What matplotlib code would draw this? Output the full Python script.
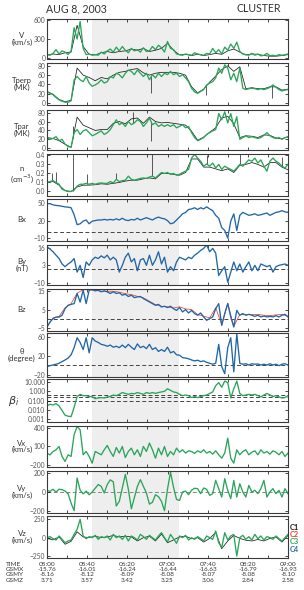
import numpy as np
import matplotlib
matplotlib.use("Agg")
import matplotlib.pyplot as plt

plt.rcParams["font.family"] = ["Lato", "DejaVu Sans"]

# sampling grid: minutes after 05:00 UT, every 3 min (C3 / C4 series)
t3 = np.arange(0, 241, 3)
# coarser grid for the secondary spacecraft traces (C1 / C2)
t6 = np.arange(0, 241, 6)

# ---- plasma (C3 green, C1 black) ----
v_c3 = [50, 40, 70, 130, 60, 110, 90, 50, 110, 480,
        300, 580, 150, 50, 60, 40, 50, 40, 90, 60,
        110, 140, 90, 170, 110, 180, 120, 80, 150, 110,
        130, 90, 160, 100, 110, 180, 130, 200, 160, 90,
        260, 150, 130, 60, 50, 40, 60, 50, 40, 80,
        60, 50, 40, 70, 60, 150, 80, 130, 60, 170,
        120, 220, 150, 250, 100, 60, 50, 40, 70, 40,
        60, 30, 40, 70, 30, 40, 30, 50, 40, 50,
        60]
v_c1 = [45, 60, 50, 80, 90, 520, 180, 55, 45, 80,
        100, 80, 100, 110, 140, 120, 150, 100, 120, 150,
        230, 120, 45, 55, 35, 55, 35, 50, 70, 55,
        110, 140, 90, 45, 60, 55, 35, 25, 25, 35,
        50]

tperp_c3 = [24, 21, 18, 12, 7, 4, 2, 2, 5, 50,
            57, 50, 46, 57, 43, 36, 39, 43, 50, 43,
            46, 57, 54, 64, 61, 54, 64, 71, 68, 61,
            71, 64, 57, 64, 50, 61, 54, 64, 57, 64,
            61, 68, 61, 64, 57, 61, 54, 46, 32, 24,
            21, 25, 29, 39, 43, 46, 54, 75, 64, 82,
            75, 50, 64, 46, 75, 32, 29, 31, 32, 31,
            29, 31, 29, 31, 34, 39, 34, 29, 26, 28,
            29]
tperp_c1 = [25, 19, 8, 3, 6, 75, 60, 55, 48, 55,
            52, 60, 66, 68, 72, 74, 65, 60, 64, 66,
            66, 66, 64, 60, 35, 22, 30, 45, 58, 72,
            80, 68, 78, 31, 33, 31, 31, 35, 35, 28,
            30]
tperp_spike_t = [104, 158, 224]
tperp_spike_v = [21, 18, 12]

tpar_c3 = [24, 20, 22, 26, 17, 20, 9, 4, 2, 35,
           42, 31, 39, 42, 35, 28, 31, 35, 39, 31,
           35, 42, 53, 64, 53, 57, 49, 60, 53, 57,
           64, 60, 49, 57, 68, 53, 57, 49, 53, 49,
           53, 49, 53, 46, 49, 53, 46, 49, 35, 24,
           17, 20, 24, 31, 35, 39, 42, 78, 64, 82,
           57, 78, 49, 71, 20, 24, 28, 24, 26, 24,
           22, 24, 29, 35, 28, 24, 22, 24, 20, 24,
           25]
tpar_c1 = [24, 22, 17, 9, 2, 70, 52, 46, 40, 42,
           42, 56, 60, 55, 66, 68, 56, 70, 60, 57,
           58, 56, 54, 52, 38, 18, 25, 36, 46, 68,
           72, 55, 24, 28, 27, 24, 30, 29, 23, 21,
           26]
tpar_spike_t = [26, 86, 104]
tpar_spike_v = [50, 82, 17]

n_c3 = [0.10, 0.11, 0.12, 0.10, 0.08, 0.025, 0.01, 0.0, 0.0, 0.015,
        0.06, 0.08, 0.08, 0.09, 0.08, 0.09, 0.08, 0.09, 0.095, 0.09,
        0.09, 0.11, 0.095, 0.135, 0.11, 0.12, 0.125, 0.17, 0.135, 0.125,
        0.135, 0.145, 0.15, 0.145, 0.16, 0.17, 0.15, 0.18, 0.21, 0.20,
        0.21, 0.19, 0.20, 0.18, 0.19, 0.21, 0.225, 0.245, 0.37, 0.41,
        0.37, 0.335, 0.28, 0.305, 0.28, 0.315, 0.26, 0.30, 0.245, 0.28,
        0.26, 0.245, 0.225, 0.26, 0.30, 0.28, 0.315, 0.35, 0.335, 0.37,
        0.315, 0.35, 0.28, 0.225, 0.335, 0.37, 0.335, 0.315, 0.28, 0.26,
        0.30]
n_c1 = [0.10, 0.11, 0.07, 0.01, 0.0, 0.05, 0.07, 0.07, 0.075, 0.085,
        0.08, 0.09, 0.10, 0.115, 0.125, 0.125, 0.14, 0.15, 0.14, 0.20,
        0.20, 0.19, 0.18, 0.21, 0.36, 0.36, 0.27, 0.27, 0.25, 0.23,
        0.25, 0.21, 0.29, 0.30, 0.32, 0.30, 0.27, 0.32, 0.32, 0.27,
        0.24]
n_spike_t = [5, 9, 26, 40, 69, 105, 159, 192, 234]
n_spike_v = [0.20, 0.22, 0.41, 0.19, 0.21, 0.41, 0.40, 0.41, 0.38]

# ---- magnetic field (C4 blue, C2 red) ----
bx_c4 = [49, 49, 47, 46, 45.5, 44.5, 43.5, 43, 42, 30,
         13, 14.5, 19, 21, 14.5, 19, 20, 21, 21, 22,
         21, 22, 21, 23, 21, 24, 21, 20, 22, 21,
         24, 21, 23, 25, 23, 21, 24, 26, 24, 23,
         20, 14.5, 16, 21, 26, 31.6, 34, 39, 40, 42,
         39, 42, 40, 43.5, 40, 37, 29, 24, 8, 3,
         -10, 19, 31.6, 3, 29, 34, 31.6, 29, 30, 31.6,
         29, 30, 31.6, 33, 29, 31.6, 34, 35, 37, 35,
         34]
by_c4 = [16.7, 15, 13, 10.5, 8, 4, 2, 4, 5.5, 8,
         -2, 3, -6, 5.5, 3, 7, 9, 8, 10, 8.5,
         10.5, 7, 9, 7, -2, 3, 9, 12, 5.5, 8,
         -1, 7, 8, 3, 10.5, 3, 7, 13, 4, 9,
         -2, 2, -1, 5.5, 9, 8, 7, 9, 8, 10.5,
         12, 14, 15.5, 18, 13, 15.5, 12, -4.5, -1, 2,
         -9.5, -2, 5.5, -1, 4, -2, 2, 5.5, -1, 3,
         -1, 4, 3, 2, 3, -2, 2, 3, 3.5, 4,
         3]
bz_c4 = [-4.3, -1.6, 0.2, 1, 1, 2, 5.5, 7.3, 7.8, 8.2,
         13.6, 9, 15.4, 8.2, 15.4, 15.7, 15, 15.4, 14.5, 15,
         14.5, 13.6, 14.5, 13.6, 14, 12.7, 13.2, 12, 12.7, 11.4,
         11.8, 12, 10.9, 10, 9.1, 8.2, 7.3, 7.8, 6.4, 6.8,
         6.1, 6.8, 5.5, 4.6, 6.1, 3.75, 5, 3.2, 4.6, 2.9,
         2, 3.2, 1.1, -0.7, 0.2, 1.1, 5.5, 8.2, -3.4, 2.9,
         8.2, 1.1, -4.3, 4.6, 2, 2.9, 2, 2.5, 2, 1.4,
         2, 1.1, 1.6, 1.1, 1.4, 1.1, 1.8, 1.1, 2, 2.5,
         1.1]
bz_c2 = [-4, 0.6, 1.4, 6, 8.2, 13.8, 15.6, 15.6, 15.3, 14.8,
         14.8, 14.8, 14.3, 13.5, 13, 12.1, 11.3, 9.5, 7.7, 6.8,
         6.5, 5.9, 6.5, 5.4, 5, 2.4, 1.5, 0.6, 6, -3,
         8.5, -4, 2.4, 2.4, 2.4, 2.4, 2, 1.8, 2.2, 2.4,
         1.5]
theta_c4 = [-3, -1, 0.4, 2, 4, 7.6, 11, 15, 22, 37,
            58, 48, 33, 58, 26, 58, 51, 48, 44, 42.5,
            40, 42.5, 38, 40, 37, 42.5, 37, 44, 38, 33,
            45, 37, 40, 35, 44, 33, 37, 29, 33, 29,
            38, 26, 29, 22, 21, 16, 15, 13.5, 11, 9,
            10.5, 7.6, 9, 6, 4, 2, 4, 44, -3, -18,
            37, 58, -14, 66, 4, 2, 3, 0.4, 3, 2,
            2.5, 0.4, 2, 0.4, 3, 0.4, 2, -1, 2, 3,
            0.4]

beta_c3 = [0.027, 0.04, 0.034, 0.047, 0.027, 0.0085, 0.0027, 0.0021, 0.0019, 0.019,
           0.27, 0.47, 0.34, 0.34, 0.27, 0.27, 0.16, 0.19, 0.21, 0.19,
           0.25, 0.27, 0.4, 0.34, 0.47, 0.74, 0.59, 0.47, 0.59, 0.54,
           0.74, 0.59, 0.47, 0.74, 0.59, 0.74, 0.59, 0.74, 0.85, 1.0,
           1.86, 1.26, 0.85, 0.74, 0.47, 0.34, 0.4, 0.34, 0.21, 0.27,
           0.21, 0.27, 0.34, 0.4, 0.59, 0.85, 4.0, 8.5, 2.7, 12.6,
           8.5, 0.19, 1.86, 12.6, 0.59, 0.34, 0.4, 0.47, 0.4, 0.47,
           0.34, 0.25, 0.4, 0.59, 0.4, 0.27, 0.34, 0.25, 0.19, 0.21,
           0.34]
beta_refs = [0.45, 0.25, 0.1]

vx_c3 = [-10, -40, 16, 44, 98, -65, -147, -38, -65, 290,
         425, 370, -38, 16, -65, -175, 16, -10, -38, 44,
         115, 16, -65, 82, -10, 98, -82, 16, 71, -38,
         44, -65, 98, 16, 153, 44, -93, 71, -38, 98,
         -65, 16, -38, 71, 5, 44, -10, 27, 16, -16,
         27, 0, 44, -10, 16, -27, 27, -38, -93, -10,
         234, -93, -175, 44, -38, 16, 44, -38, 5, 27,
         -38, 44, -10, 16, -27, 27, 5, -38, 16, -65,
         -10]
vy_c3 = [18, 7, 29, 0, 30, 25, 10, -20, -120, -200,
         150, 20, -20, 10, -30, 0, 40, 80, 60, -10,
         80, 130, 110, -150, -100, 43, 190, 30, -180, -60,
         60, 132, 60, -10, -130, -110, -29, -50, -100, -200,
         30, 214, 50, -80, -90, 0, 10, -29, 20, 40,
         36, -18, 43, 29, -36, -18, 125, 36, -54, 143,
         18, -71, 125, -54, 89, 0, -54, 71, 0, 18,
         -18, 36, 125, -54, 0, 36, -18, 18, -54, 36,
         -18]
vz_c3 = [0, 14, -14, -32, 23, -23, -68, -45, -32, 45,
         114, 250, 23, -14, 14, 0, 32, -23, 14, 0,
         23, -32, 45, 0, 23, -23, 32, -45, 23, 0,
         -32, 45, 14, -23, 32, 0, -32, 23, 68, 0,
         -59, 45, -14, -77, 23, 0, 32, -32, 0, -23,
         14, -14, -45, 23, 0, -23, 91, -68, -136, 68,
         -32, 23, 45, -250, 0, 32, -23, 14, -32, 45,
         -14, 23, -32, 14, 0, -23, 23, -14, -45, 0,
         45]
vz_c1 = [-10, -30, 10, -90, -50, 80, 10, 0, 20, 0,
         10, 30, 10, 20, 10, -45, 0, 20, -45, 50,
         -70, -30, 10, 20, -15, 0, -60, -10, 70, -150,
         -45, 30, -10, -35, -45, -25, -45, -10, 10, -60,
         30]

# ---- bottom orbit table ----
time_labels = ["05:00", "05:40", "06:20", "07:00", "07:40", "08:20", "09:00"]
gsmx = ["-15.76", "-16.01", "-16.24", "-16.44", "-16.63", "-16.79", "-16.93"]
gsmy = ["-8.16", "-8.12", "-8.09", "-8.08", "-8.07", "-8.08", "-8.10"]
gsmz = ["3.71", "3.57", "3.42", "3.25", "3.06", "2.84", "2.58"]
label_minutes = [0, 40, 80, 120, 160, 200, 240]
shade_window = (45, 131)

C1, C2, C3, C4 = "#1a1a1a", "#e8432e", "#2aa55a", "#2266a8"
SHADE = "#eeeeee"

W_PX, H_PX = 304, 590
LEFT_PX, RIGHT_PX = 47, 288

fig = plt.figure(figsize=(W_PX / 100, H_PX / 100), dpi=100)


def px_x(x):
    return x / W_PX


def px_y(y):
    return 1 - y / H_PX


def add_panel(top, bottom):
    ax = fig.add_axes([px_x(LEFT_PX), px_y(bottom), px_x(RIGHT_PX - LEFT_PX),
                       (bottom - top) / H_PX])
    ax.axvspan(*shade_window, color=SHADE, lw=0, zorder=0)
    ax.set_xlim(0, 240)
    ax.set_xticks(np.arange(0, 241, 20))
    ax.tick_params(axis="both", direction="in", top=True, right=True, length=2.2,
                   width=0.5, labelsize=4.8, labelcolor="#555555", pad=1.2,
                   labelbottom=False)
    ax.tick_params(axis="y", which="minor", direction="in", right=True, length=1.2, width=0.4)
    for sp in ax.spines.values():
        sp.set_linewidth(0.8)
        sp.set_color("#3a3a3a")
    return ax


def ylabel(top, bottom, text, size=5.6, x=22):
    fig.text(px_x(x), px_y((top + bottom) / 2), text, ha="center", va="center",
             fontsize=size, color="#333333", linespacing=0.95)


def dashed(ax, y, color="#444444"):
    ax.axhline(y, color=color, lw=0.7, dashes=(4, 2.5), zorder=1)


def spikes(ax, ts, tops, base_t, base_v, color=C1):
    base = np.interp(ts, base_t, base_v)
    ax.vlines(ts, base, tops, color=color, lw=0.5, zorder=2)


panels = [(19, 59), (63, 105), (110, 150), (154, 196), (199, 241), (245, 285),
          (289, 331), (333, 377), (379, 422), (426, 467), (471, 513), (516, 558)]
lw_main = 0.95
lw_back = 0.55

# V
top, bot = panels[0]
ax = add_panel(top, bot)
ax.plot(t6, v_c1, color=C1, lw=lw_back)
ax.plot(t3, v_c3, color=C3, lw=lw_main)
ax.set_ylim(-20, 620)
ax.set_yticks([0, 300, 600])
ylabel(top, bot, "V\n(km/s)")

# Tperp
top, bot = panels[1]
ax = add_panel(top, bot)
ax.plot(t6, tperp_c1, color=C1, lw=lw_back)
spikes(ax, tperp_spike_t, tperp_spike_v, t3, tperp_c3)
ax.plot(t3, tperp_c3, color=C3, lw=lw_main)
ax.set_ylim(-4, 86)
ax.set_yticks([0, 20, 40, 60, 80])
ylabel(top, bot, "Tperp\n(MK)")

# Tpar
top, bot = panels[2]
ax = add_panel(top, bot)
ax.plot(t6, tpar_c1, color=C1, lw=lw_back)
spikes(ax, tpar_spike_t, tpar_spike_v, t3, tpar_c3)
ax.plot(t3, tpar_c3, color=C3, lw=lw_main)
ax.set_ylim(-4, 86)
ax.set_yticks([0, 20, 40, 60, 80])
ylabel(top, bot, "Tpar\n(MK)")

# n
top, bot = panels[3]
ax = add_panel(top, bot)
ax.plot(t6, n_c1, color=C1, lw=lw_back)
spikes(ax, n_spike_t, n_spike_v, t3, n_c3)
ax.plot(t3, n_c3, color=C3, lw=lw_main)
ax.set_ylim(-0.05, 0.415)
ax.set_yticks([0.0, 0.1, 0.2, 0.3, 0.4])
ax.set_yticklabels(["0.0", "0.1", "0.2", "0.3", "0.4"])
ylabel(top, bot, "n\n(cm$^{-3}$)")

# Bx
top, bot = panels[4]
ax = add_panel(top, bot)
dashed(ax, 0)
ax.plot(t3, bx_c4, color=C4, lw=lw_main)
ax.set_ylim(-15, 57)
ax.set_yticks([-10, 20, 50])
ylabel(top, bot, "Bx")

# By
top, bot = panels[5]
ax = add_panel(top, bot)
dashed(ax, 0)
ax.plot(t3, by_c4, color=C4, lw=lw_main)
ax.set_ylim(-11.5, 18)
ax.set_yticks([-10, 3, 16])
ylabel(top, bot, "By\n(nT)")

# Bz
top, bot = panels[6]
ax = add_panel(top, bot)
dashed(ax, 0)
ax.plot(t6, bz_c2, color=C2, lw=lw_back)
ax.plot(t3, bz_c4, color=C4, lw=lw_main)
ax.set_ylim(-6.4, 16)
ax.set_yticks([-5, 5, 15])
ylabel(top, bot, "Bz")

# theta
top, bot = panels[7]
ax = add_panel(top, bot)
dashed(ax, 0)
ax.plot(t3, theta_c4, color=C4, lw=lw_main)
ax.set_ylim(-25, 68)
ax.set_yticks([-20, 20, 60])
ylabel(top, bot, "θ\n(degree)")

# beta_i
top, bot = panels[8]
ax = add_panel(top, bot)
for ref in beta_refs:
    dashed(ax, ref)
ax.plot(t3, beta_c3, color=C3, lw=lw_main)
ax.set_yscale("log")
ax.set_ylim(5e-4, 21)
ax.set_yticks([0.001, 0.01, 0.1, 1, 10])
ax.set_yticklabels(["0.001", "0.010", "0.100", "1.000", "10.000"])
ax.yaxis.set_minor_locator(matplotlib.ticker.NullLocator())
ylabel(top, bot, r"$\beta_i$", size=8, x=14)

# Vx
top, bot = panels[9]
ax = add_panel(top, bot)
ax.plot(t3, vx_c3, color=C3, lw=lw_main)
ax.set_ylim(-237, 432)
ax.set_yticks([-200, 100, 400])
ylabel(top, bot, "Vx\n(km/s)")

# Vy
top, bot = panels[10]
ax = add_panel(top, bot)
dashed(ax, 0, color="#888888")
ax.plot(t3, vy_c3, color=C3, lw=lw_main)
ax.set_ylim(-225, 225)
ax.set_yticks([-200, 0, 200])
ylabel(top, bot, "Vy\n(km/s)")

# Vz
top, bot = panels[11]
ax = add_panel(top, bot)
ax.plot(t6, vz_c1, color=C1, lw=lw_back)
ax.plot(t3, vz_c3, color=C3, lw=lw_main)
ax.set_ylim(-277, 295)
ax.set_yticks([-250, 0, 250])
ylabel(top, bot, "Vz\n(km/s)")

# spacecraft legend
for i, (name, col) in enumerate(zip(["C1", "C2", "C3", "C4"], [C1, C2, C3, C4])):
    fig.text(px_x(290), px_y(527 + 7.4 * i), name, color=col, fontsize=5.4,
             fontweight="bold", va="center", ha="left")

# titles
fig.text(px_x(46), px_y(8.5), "AUG 8, 2003", fontsize=7.6, color="#333333", va="center")
fig.text(px_x(281), px_y(9), "CLUSTER", fontsize=7.6, color="#333333", va="center", ha="right")

# orbit table under the panels
rows = [("TIME", time_labels, 564), ("GSMX", gsmx, 569.5),
        ("GSMY", gsmy, 575), ("GSMZ", gsmz, 580.5)]
for name, vals, y in rows:
    fig.text(px_x(6), px_y(y), name, fontsize=4.6, color="#333333", va="center")
    for m, val in zip(label_minutes, vals):
        xp = LEFT_PX + m * (RIGHT_PX - LEFT_PX) / 240
        fig.text(px_x(xp), px_y(y), val, fontsize=4.6, color="#333333",
                 va="center", ha="center")

fig.savefig("out.png", dpi=100)
